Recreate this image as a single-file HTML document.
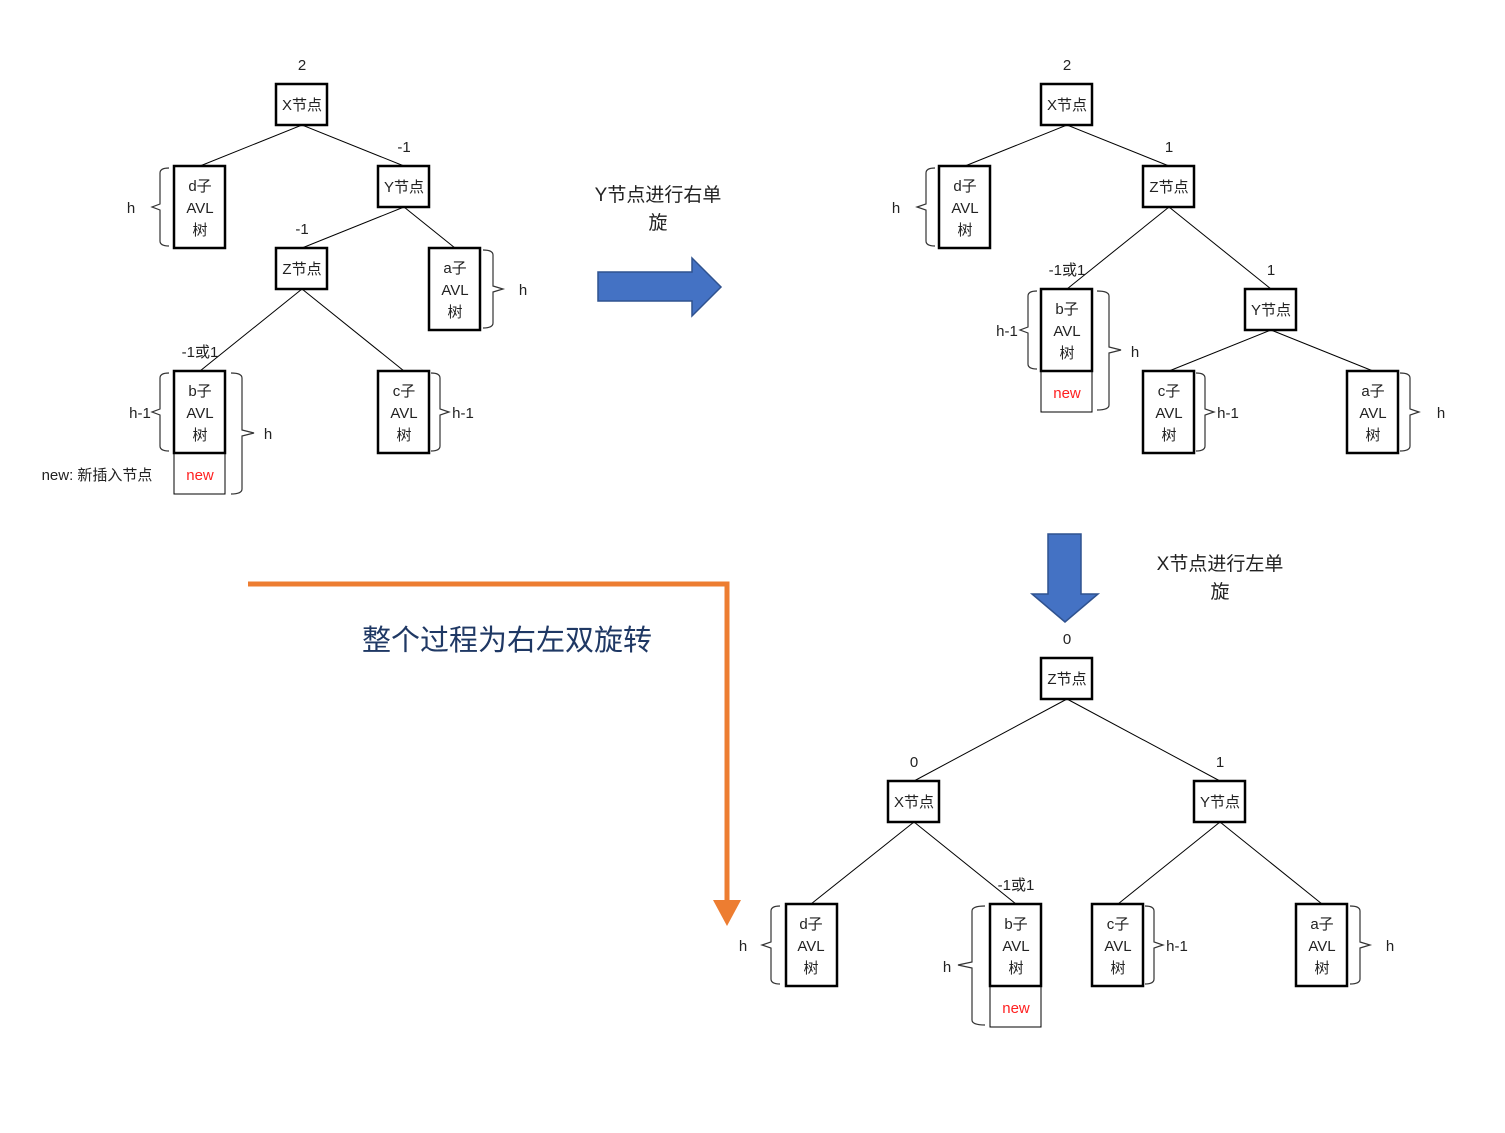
<!DOCTYPE html>
<html><head><meta charset="utf-8"><style>
html,body{margin:0;padding:0;background:#fff;}
svg{display:block;}
text{font-family:"Liberation Sans","Noto Sans CJK SC",sans-serif;fill:#222;}
.bx{fill:#fff;stroke:#000;stroke-width:2.5;}
.nw{fill:#fff;stroke:#000;stroke-width:1;}
.ln{stroke:#000;stroke-width:1;fill:none;}
.br{stroke:#333;stroke-width:1.2;fill:none;}
.t{font-size:15px;text-anchor:middle;}
.l{font-size:15px;text-anchor:middle;}
.r{fill:#ff2020;}
</style></head><body>
<svg width="1505" height="1133" viewBox="0 0 1505 1133" xmlns="http://www.w3.org/2000/svg">
<!-- lines tree1 -->
<g class="ln">
<path d="M302,125 L200,166 M302,125 L404,166 M404,207 L302,248 M404,207 L455,248 M302,289 L200,371 M302,289 L404,371"/>
<path d="M1067,125 L965,166 M1067,125 L1169,166 M1169,207 L1067,289 M1169,207 L1271,289 M1271,330 L1169,371 M1271,330 L1373,371"/>
<path d="M1067,699 L914,781 M1067,699 L1220,781 M914,822 L811,904 M914,822 L1016,904 M1220,822 L1118,904 M1220,822 L1322,904"/>
</g>
<!-- braces -->
<g class="br">
<path d="M169,168 Q160,168 160,173 L160,204 L152,207 L160,210 L160,241 Q160,246 169,246"/>
<path d="M169,373 Q160,373 160,378 L160,409 L152,412 L160,415 L160,446 Q160,451 169,451"/>
<path d="M231,373 Q242,373 242,378 L242,430 L254,433 L242,436 L242,489 Q242,494 231,494"/>
<path d="M431,373 Q440,373 440,378 L440,409 L449,412 L440,415 L440,446 Q440,451 431,451"/>
<path d="M483,250 Q493,250 493,255 L493,286 L503,289 L493,292 L493,323 Q493,328 483,328"/>
<path d="M935,168 Q926,168 926,173 L926,204 L917,207 L926,210 L926,241 Q926,246 935,246"/>
<path d="M1037,291 Q1028,291 1028,296 L1028,327 L1020,330 L1028,333 L1028,364 Q1028,369 1037,369"/>
<path d="M1097,291 Q1109,291 1109,296 L1109,347 L1121,350 L1109,353 L1109,405 Q1109,410 1097,410"/>
<path d="M1196,373 Q1205,373 1205,378 L1205,409 L1214,412 L1205,415 L1205,446 Q1205,451 1196,451"/>
<path d="M1400,373 Q1410,373 1410,378 L1410,409 L1419,412 L1410,415 L1410,446 Q1410,451 1400,451"/>
<path d="M780,906 Q771,906 771,911 L771,942 L762,945 L771,948 L771,979 Q771,984 780,984"/>
<path d="M985,906 Q972,906 972,911 L972,962 L958,965 L972,968 L972,1020 Q972,1025 985,1025"/>
<path d="M1145,906 Q1154,906 1154,911 L1154,942 L1163,945 L1154,948 L1154,979 Q1154,984 1145,984"/>
<path d="M1350,906 Q1360,906 1360,911 L1360,942 L1370,945 L1360,948 L1360,979 Q1360,984 1350,984"/>
</g>
<!-- Tree 1 -->
<text class="l" x="302" y="70">2</text>
<rect class="bx" x="276" y="84" width="51" height="41"/><text class="t" x="302" y="110">X节点</text>
<rect class="bx" x="174" y="166" width="51" height="82"/><text class="t" x="200" y="191">d子</text><text class="t" x="200" y="213">AVL</text><text class="t" x="200" y="235">树</text>
<text class="l" x="131" y="213">h</text>
<text class="l" x="404" y="152">-1</text>
<rect class="bx" x="378" y="166" width="51" height="41"/><text class="t" x="404" y="192">Y节点</text>
<text class="l" x="302" y="234">-1</text>
<rect class="bx" x="276" y="248" width="51" height="41"/><text class="t" x="302" y="274">Z节点</text>
<rect class="bx" x="429" y="248" width="51" height="82"/><text class="t" x="455" y="273">a子</text><text class="t" x="455" y="295">AVL</text><text class="t" x="455" y="317">树</text>
<text class="l" x="523" y="295">h</text>
<text class="l" x="200" y="357">-1或1</text>
<rect class="nw" x="174" y="453" width="51" height="41"/><text class="t r" x="200" y="480">new</text>
<rect class="bx" x="174" y="371" width="51" height="82"/><text class="t" x="200" y="396">b子</text><text class="t" x="200" y="418">AVL</text><text class="t" x="200" y="440">树</text>
<text class="l" x="140" y="418">h-1</text>
<text class="l" x="268" y="439">h</text>
<rect class="bx" x="378" y="371" width="51" height="82"/><text class="t" x="404" y="396">c子</text><text class="t" x="404" y="418">AVL</text><text class="t" x="404" y="440">树</text>
<text class="l" x="463" y="418">h-1</text>
<text class="l" x="97" y="480">new:  新插入节点</text>
<!-- right arrow -->
<path d="M598,272 L692,272 L692,258 L721,287 L692,316 L692,301 L598,301 Z" fill="#4472C4" stroke="#2F528F" stroke-width="1.5"/>
<text x="658" y="201" style="font-size:19px;text-anchor:middle">Y节点进行右单</text>
<text x="658" y="229" style="font-size:19px;text-anchor:middle">旋</text>
<!-- Tree 2 -->
<text class="l" x="1067" y="70">2</text>
<rect class="bx" x="1041" y="84" width="51" height="41"/><text class="t" x="1067" y="110">X节点</text>
<rect class="bx" x="939" y="166" width="51" height="82"/><text class="t" x="965" y="191">d子</text><text class="t" x="965" y="213">AVL</text><text class="t" x="965" y="235">树</text>
<text class="l" x="896" y="213">h</text>
<text class="l" x="1169" y="152">1</text>
<rect class="bx" x="1143" y="166" width="51" height="41"/><text class="t" x="1169" y="192">Z节点</text>
<text class="l" x="1067" y="275">-1或1</text>
<rect class="nw" x="1041" y="371" width="51" height="41"/><text class="t r" x="1067" y="398">new</text>
<rect class="bx" x="1041" y="289" width="51" height="82"/><text class="t" x="1067" y="314">b子</text><text class="t" x="1067" y="336">AVL</text><text class="t" x="1067" y="358">树</text>
<text class="l" x="1007" y="336">h-1</text>
<text class="l" x="1135" y="357">h</text>
<text class="l" x="1271" y="275">1</text>
<rect class="bx" x="1245" y="289" width="51" height="41"/><text class="t" x="1271" y="315">Y节点</text>
<rect class="bx" x="1143" y="371" width="51" height="82"/><text class="t" x="1169" y="396">c子</text><text class="t" x="1169" y="418">AVL</text><text class="t" x="1169" y="440">树</text>
<text class="l" x="1228" y="418">h-1</text>
<rect class="bx" x="1347" y="371" width="51" height="82"/><text class="t" x="1373" y="396">a子</text><text class="t" x="1373" y="418">AVL</text><text class="t" x="1373" y="440">树</text>
<text class="l" x="1441" y="418">h</text>
<!-- down arrow -->
<path d="M1048,534 L1081,534 L1081,594 L1098,594 L1065,622 L1032,594 L1048,594 Z" fill="#4472C4" stroke="#2F528F" stroke-width="1.5"/>
<text x="1220" y="570" style="font-size:19px;text-anchor:middle">X节点进行左单</text>
<text x="1220" y="598" style="font-size:19px;text-anchor:middle">旋</text>
<!-- Tree 3 -->
<text class="l" x="1067" y="644">0</text>
<rect class="bx" x="1041" y="658" width="51" height="41"/><text class="t" x="1067" y="684">Z节点</text>
<text class="l" x="914" y="767">0</text>
<rect class="bx" x="888" y="781" width="51" height="41"/><text class="t" x="914" y="807">X节点</text>
<text class="l" x="1220" y="767">1</text>
<rect class="bx" x="1194" y="781" width="51" height="41"/><text class="t" x="1220" y="807">Y节点</text>
<rect class="bx" x="786" y="904" width="51" height="82"/><text class="t" x="811" y="929">d子</text><text class="t" x="811" y="951">AVL</text><text class="t" x="811" y="973">树</text>
<text class="l" x="743" y="951">h</text>
<text class="l" x="1016" y="890">-1或1</text>
<rect class="nw" x="990" y="986" width="51" height="41"/><text class="t r" x="1016" y="1013">new</text>
<rect class="bx" x="990" y="904" width="51" height="82"/><text class="t" x="1016" y="929">b子</text><text class="t" x="1016" y="951">AVL</text><text class="t" x="1016" y="973">树</text>
<text class="l" x="947" y="972">h</text>
<rect class="bx" x="1092" y="904" width="51" height="82"/><text class="t" x="1118" y="929">c子</text><text class="t" x="1118" y="951">AVL</text><text class="t" x="1118" y="973">树</text>
<text class="l" x="1177" y="951">h-1</text>
<rect class="bx" x="1296" y="904" width="51" height="82"/><text class="t" x="1322" y="929">a子</text><text class="t" x="1322" y="951">AVL</text><text class="t" x="1322" y="973">树</text>
<text class="l" x="1390" y="951">h</text>
<!-- orange arrow -->
<path d="M248,584 L727,584 L727,902" fill="none" stroke="#ED7D31" stroke-width="5"/>
<path d="M713,900 L741,900 L727,926 Z" fill="#ED7D31"/>
<text x="507" y="650" style="font-size:29px;text-anchor:middle;fill:#1F3864">整个过程为右左双旋转</text>
</svg>
</body></html>
